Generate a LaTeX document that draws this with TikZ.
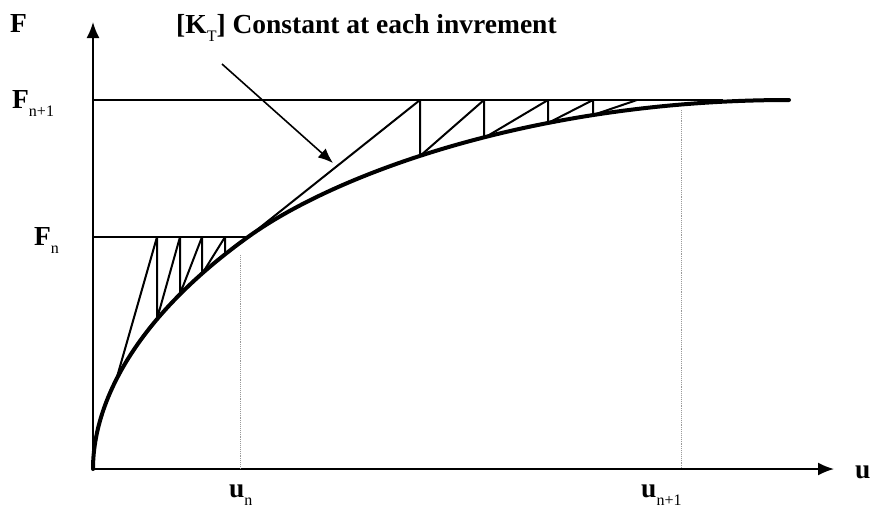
\documentclass[tikz,border=0pt]{standalone}
\usepackage{fontspec}
\setmainfont{Liberation Serif}
\usetikzlibrary{arrows.meta}

% small lowered index, set upright and not bold
\newcommand{\lowidx}[1]{\raisebox{-8pt}{\fontsize{16}{16}\mdseries\selectfont #1}}

\begin{document}
\begin{tikzpicture}[
    x=1pt, y=-1pt,
    axis/.style={draw, line width=1.8pt, -{Latex[length=16pt,width=13pt]}},
    curve/.style={draw, line width=4pt, line cap=round, line join=round},
    iter/.style={draw, line width=2pt, line join=round},
    guide/.style={draw, gray!80, line width=0.9pt, densely dotted},
    note/.style={draw, line width=1.6pt, -{Latex[length=15pt,width=12pt]}},
    lbl/.style={inner sep=0pt, anchor=base west, font=\fontsize{27.5}{30}\selectfont\bfseries}
]
    \useasboundingbox (0,0) rectangle (878,531);

    % Axes
    \coordinate (O) at (93,469);
    \coordinate (ytip) at (93,22);
    \coordinate (xtip) at (834,469);
    \path [axis] (O) -- (ytip);
    \path [axis] (O) -- (xtip);

    % Labels
    \node [lbl] (lblF) at (10,32) {F};
    \node [lbl] (title) at (176,33) {[K\lowidx{T}] Constant at each invrement};
    \node [lbl] (lblFnn) at (12,108) {F\lowidx{n+1}};
    \node [lbl] (lblFn) at (34,245) {F\lowidx{n}};
    \node [lbl] (lblun) at (229,497) {u\lowidx{n}};
    \node [lbl] (lblunn) at (641,497) {u\lowidx{n+1}};
    \node [lbl] (lblu) at (855,478) {u};

    % Load levels
    \coordinate (Fn) at (93,237);
    \coordinate (Fnn) at (93,100);
    \coordinate (c) at (248,237);
    \coordinate (Fend) at (723,100);
    \path [iter] (Fn) -- (c);
    \path [iter] (Fnn) -- (Fend);

    % Guides down to the u axis
    \coordinate (gn) at (240,255);
    \coordinate (un) at (240,469);
    \coordinate (gnn) at (681,110);
    \coordinate (unn) at (681,469);
    \path [guide] (gn) -- (un);
    \path [guide] (gnn) -- (unn);

    % Response curve
    \coordinate (cend) at (789,100);
    \draw [curve] (O) .. controls (93,409) and (128,323.4) .. (c)
        .. controls (338,172.2) and (539,100) .. (cend);

    % Iterations in the lower increment
    \coordinate (a0) at (117,377);
    \foreach \n/\x/\yb in {1/157/319, 2/180/294, 3/202/274, 4/225/255} {
        \coordinate (t\n) at (\x,237);
        \coordinate (b\n) at (\x,\yb);
    }
    \path [iter] (a0) -- (t1) -- (b1) -- (t2) -- (b2) -- (t3) -- (b3) -- (t4) -- (b4);

    % Iterations in the upper increment
    \foreach \n/\x/\yb in {1/420/156, 2/484/138, 3/548/123, 4/593/115} {
        \coordinate (T\n) at (\x,100);
        \coordinate (B\n) at (\x,\yb);
    }
    \coordinate (T5) at (637,100);
    \path [iter] (c) -- (T1) -- (B1) -- (T2) -- (B2) -- (T3) -- (B3) -- (T4) -- (B4) -- (T5);

    % Pointer from the note
    \coordinate (noteS) at (222,64);
    \coordinate (noteE) at (333,163);
    \path [note] (noteS) -- (noteE);
\end{tikzpicture}
\end{document}
